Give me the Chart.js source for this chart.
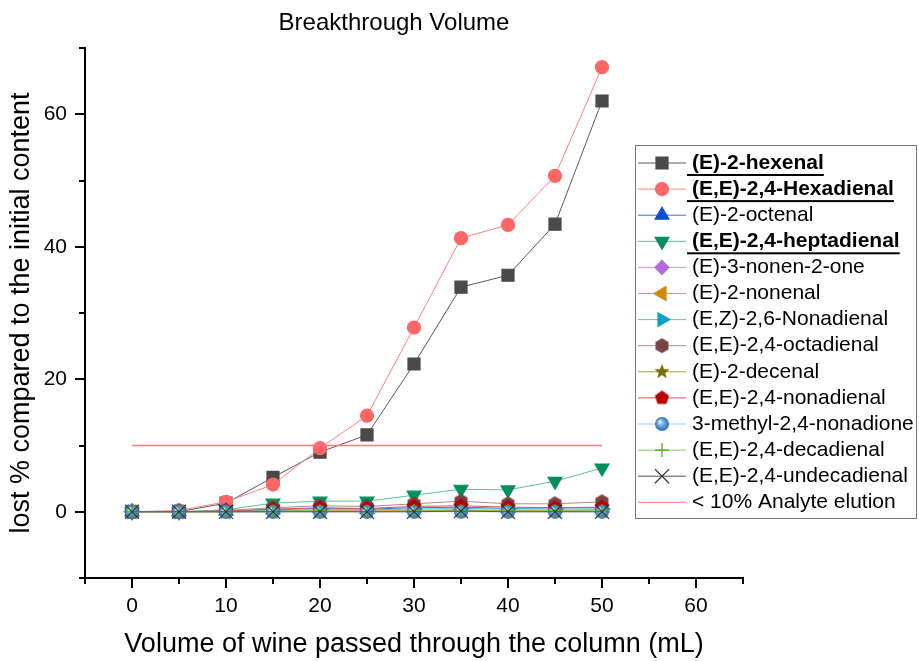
<!DOCTYPE html>
<html lang="en">
<head>
<meta charset="UTF-8">
<title>Breakthrough Volume</title>
<script src="https://cdn.jsdelivr.net/npm/chart.js"></script>
<style>
    body { margin: 0; background: #ffffff; }
    #wrap { width: 919px; height: 661px; }
</style>
</head>
<body>
<div id="wrap"><canvas id="grafico" width="919" height="661"></canvas></div>
<script>
// data
const volumes = [0, 5, 10, 15, 20, 25, 30, 35, 40, 45, 50];
const hexenal = [0, 0, 1.3, 5.2, 9.0, 11.6, 22.3, 33.9, 35.7, 43.4, 62.0];
const hexadienal = [0, 0.2, 1.5, 4.1, 9.6, 14.5, 27.8, 41.3, 43.3, 50.7, 67.1];
const octenal = [0, 0, 0.1, 0.3, 0.5, 0.4, 0.6, 0.7, 0.5, 0.6, 0.6];
const heptadienal = [0, 0, 0.3, 1.3, 1.6, 1.6, 2.5, 3.4, 3.3, 4.6, 6.6];
const nonenone = [0, 0, 0, 0, 0.1, 0, 0.1, 0.1, 0.1, 0.1, 0.1];
const nonenal = [0, 0, 0, 0.1, 0.2, 0.1, 0.2, 0.3, 0.2, 0.2, 0.3];
const ezNonadienal = [0, 0, 0.1, 0.2, 0.3, 0.3, 0.4, 0.5, 0.4, 0.4, 0.4];
const octadienal = [0, 0, 0.2, 0.6, 0.9, 0.8, 1.2, 1.6, 1.2, 1.2, 1.5];
const decenal = [0, 0, 0, 0.1, 0.1, 0.1, 0.1, 0.2, 0.1, 0.1, 0.1];
const nonadienal = [0, 0, 0.1, 0.4, 0.6, 0.5, 0.8, 0.9, 0.7, 0.6, 0.7];
const methylNonadione = [0, 0, 0, 0, 0, 0, 0, 0, 0, 0, 0];
const decadienal = [0, 0, 0, 0, 0.1, 0, 0.1, 0.1, 0.1, 0.1, 0.1];
const undecadienal = [0, 0, 0, 0, 0, 0, 0, 0.1, 0, 0, 0];
const thresholdValues = [10, 10, 10, 10, 10, 10, 10, 10, 10, 10, 10];

const seriesNames = [
    '(E)-2-hexenal', '(E,E)-2,4-Hexadienal', '(E)-2-octenal', '(E,E)-2,4-heptadienal',
    '(E)-3-nonen-2-one', '(E)-2-nonenal', '(E,Z)-2,6-Nonadienal', '(E,E)-2,4-octadienal',
    '(E)-2-decenal', '(E,E)-2,4-nonadienal', '3-methyl-2,4-nonadione', '(E,E)-2,4-decadienal',
    '(E,E)-2,4-undecadienal', '< 10% Analyte elution'
];
const seriesValues = [hexenal, hexadienal, octenal, heptadienal, nonenone, nonenal, ezNonadienal,
    octadienal, decenal, nonadienal, methylNonadione, decadienal, undecadienal, thresholdValues];
const boldSeries = [0, 1, 3];
const xTickLabels = [0, 10, 20, 30, 40, 50, 60];
const yTickLabels = [0, 20, 40, 60];

const FONT = "'Liberation Sans', Arial, sans-serif";

// marker images for shapes chart.js does not have
function polyMarker(n, r, color, star) {
    const c = document.createElement('canvas');
    const s = Math.ceil(r * 2 + 2);
    c.width = s; c.height = s;
    const g = c.getContext('2d');
    g.translate(s / 2, s / 2);
    g.beginPath();
    const k = star ? n * 2 : n;
    for (let i = 0; i < k; i++) {
        const rr = star && i % 2 ? r * 0.42 : r;
        const a = -Math.PI / 2 + i * 2 * Math.PI / k;
        g.lineTo(rr * Math.cos(a), rr * Math.sin(a));
    }
    g.closePath();
    g.fillStyle = color;
    g.fill();
    return c;
}
function sphereMarker(r) {
    const c = document.createElement('canvas');
    const s = Math.ceil(r * 2 + 2);
    c.width = s; c.height = s;
    const g = c.getContext('2d');
    const grad = g.createRadialGradient(s / 2 - r / 3, s / 2 - r / 3, 0.5, s / 2, s / 2, r);
    grad.addColorStop(0, '#e8f3ff');
    grad.addColorStop(0.45, '#6aa6e0');
    grad.addColorStop(1, '#2f6fb3');
    g.fillStyle = grad;
    g.beginPath();
    g.arc(s / 2, s / 2, r, 0, Math.PI * 2);
    g.fill();
    return c;
}

const styles = [
    { point: '#4a4a4a', line: '#5a5a5a', pointStyle: 'rect', radius: 8.5 },
    { point: '#ff6666', line: '#ff8080', pointStyle: 'circle', radius: 6.5 },
    { point: '#0b50d0', line: '#3f6fd8', pointStyle: 'triangle', radius: 8 },
    { point: '#00915a', line: '#5cc095', pointStyle: 'triangle', radius: 8, rotation: 180 },
    { point: '#b36bdb', line: '#c795e8', pointStyle: 'rectRot', radius: 7 },
    { point: '#d4880c', line: '#dda040', pointStyle: 'triangle', radius: 8, rotation: -90 },
    { point: '#0ca0c4', line: '#55c3dd', pointStyle: 'triangle', radius: 8, rotation: 90 },
    { point: '#7b4444', line: '#b08a8a', pointStyle: polyMarker(6, 7.5, '#7b4444'), radius: 7.5 },
    { point: '#7a7000', line: '#aaa040', pointStyle: polyMarker(5, 8, '#7a7000', true), radius: 8 },
    { point: '#bb0000', line: '#dd5555', pointStyle: polyMarker(5, 7.5, '#bb0000'), radius: 7.5 },
    { point: '#4a90d0', line: '#a8c8e8', pointStyle: sphereMarker(7), radius: 7 },
    { point: '#44aa11', line: '#88cc66', pointStyle: 'cross', radius: 7 },
    { point: '#333333', line: '#555555', pointStyle: 'crossRot', radius: 10 },
    { point: '#ff7a7a', line: '#ff7a7a', pointStyle: false, radius: 0, width: 1.3 }
];

const datasets = seriesValues.map((vals, i) => ({
    label: seriesNames[i],
    data: volumes.map((v, j) => ({ x: v, y: vals[j] })),
    borderColor: styles[i].line,
    backgroundColor: styles[i].point,
    borderWidth: styles[i].width || 1,
    pointStyle: styles[i].pointStyle,
    pointRadius: styles[i].radius,
    pointHoverRadius: styles[i].radius,
    pointRotation: styles[i].rotation || 0,
    pointBackgroundColor: styles[i].point,
    pointBorderColor: styles[i].point,
    pointBorderWidth: 1.2,
    order: seriesValues.length - i
}));

// title, tick marks and the boxed legend
const decorPlugin = {
    id: 'decor',
    afterDraw(chart) {
        const ctx = chart.ctx;
        const xs = chart.scales.x, ys = chart.scales.y;
        const area = chart.chartArea;
        ctx.save();
        ctx.fillStyle = '#000';
        ctx.font = '24px ' + FONT;
        ctx.textAlign = 'center';
        ctx.textBaseline = 'middle';
        ctx.fillText('Breakthrough Volume', 394, 23);

        ctx.strokeStyle = '#000';
        ctx.lineWidth = 2;
        ys.ticks.forEach(t => {
            const y = Math.round(ys.getPixelForValue(t.value));
            const len = yTickLabels.includes(t.value) ? 10 : 6;
            ctx.beginPath();
            ctx.moveTo(area.left - len, y);
            ctx.lineTo(area.left, y);
            ctx.stroke();
        });
        xs.ticks.forEach(t => {
            const x = Math.round(xs.getPixelForValue(t.value));
            const len = xTickLabels.includes(t.value) ? 10 : 6;
            ctx.beginPath();
            ctx.moveTo(x, area.bottom);
            ctx.lineTo(x, area.bottom + len);
            ctx.stroke();
        });

        // legend
        const bx = 635, by = 145, bw = 281, bh = 373;
        ctx.lineWidth = 1;
        ctx.strokeStyle = '#777';
        ctx.strokeRect(bx + 0.5, by + 0.5, bw, bh);
        ctx.textAlign = 'left';
        chart.data.datasets.forEach((ds, i) => {
            const y = 163 + i * 26.1;
            ctx.strokeStyle = ds.borderColor;
            ctx.lineWidth = 1;
            ctx.beginPath();
            ctx.moveTo(638, y);
            ctx.lineTo(686, y);
            ctx.stroke();
            if (ds.pointStyle) {
                ctx.fillStyle = ds.pointBackgroundColor;
                ctx.strokeStyle = ds.pointBorderColor;
                ctx.lineWidth = 1.2;
                Chart.helpers.drawPoint(ctx, {
                    pointStyle: ds.pointStyle,
                    rotation: ds.pointRotation,
                    radius: ds.pointRadius,
                    borderWidth: 1.2
                }, 662, y);
            }
            const bold = boldSeries.includes(i);
            ctx.font = (bold ? 'bold ' : '') + '21px ' + FONT;
            ctx.fillStyle = '#000';
            ctx.fillText(ds.label, 692, y);
            if (bold) {
                const w = ctx.measureText(ds.label).width;
                ctx.fillRect(687, y + 11, 692 + w - 687, 2);
            }
        });
        ctx.restore();
    }
};

const ctx = document.getElementById('grafico').getContext('2d');
const grafico = new Chart(ctx, {
    type: 'line',
    data: { datasets: datasets },
    options: {
        responsive: false,
        animation: false,
        layout: { padding: { top: 48, right: 176, left: 0, bottom: 0 } },
        plugins: {
            legend: { display: false },
            title: { display: false },
            tooltip: { enabled: false }
        },
        scales: {
            x: {
                type: 'linear',
                min: -5,
                max: 65,
                afterFit: s => { s.height = 83; },
                grid: { display: false, drawTicks: false },
                border: { display: true, color: '#000', width: 2 },
                ticks: {
                    stepSize: 5,
                    padding: 16,
                    color: '#000',
                    font: { size: 21, family: FONT },
                    maxRotation: 0,
                    autoSkip: false,
                    callback: v => xTickLabels.includes(v) ? v : ''
                },
                title: {
                    display: true,
                    text: 'Volume of wine passed through the column (mL)',
                    color: '#000',
                    font: { size: 27, family: FONT },
                    padding: { top: 0, bottom: 0 }
                }
            },
            y: {
                min: -10,
                max: 70,
                afterFit: s => { s.width = 85; },
                grid: { display: false, drawTicks: false },
                border: { display: true, color: '#000', width: 2 },
                ticks: {
                    stepSize: 10,
                    padding: 18,
                    color: '#000',
                    font: { size: 21, family: FONT },
                    autoSkip: false,
                    callback: v => yTickLabels.includes(v) ? v : ''
                },
                title: {
                    display: true,
                    text: 'lost % compared to the initial content',
                    color: '#000',
                    font: { size: 27, family: FONT },
                    padding: { top: 5, bottom: 0 }
                }
            }
        }
    },
    plugins: [decorPlugin]
});
</script>
</body>
</html>
